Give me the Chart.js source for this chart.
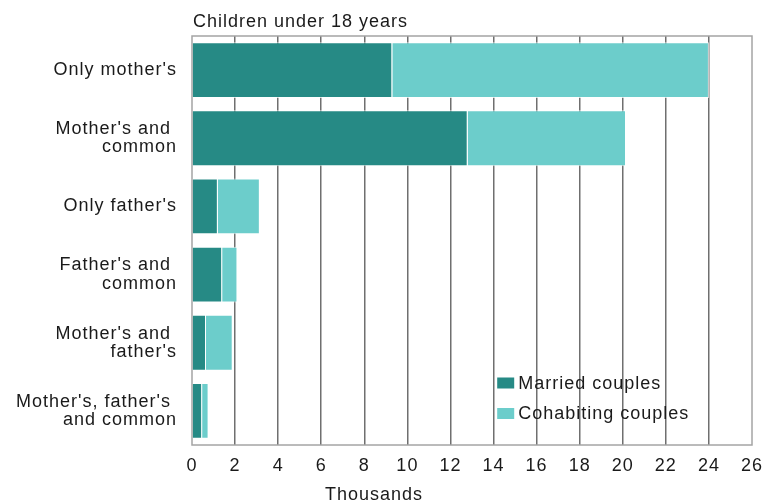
<!DOCTYPE html>
<html>
<head>
<meta charset="utf-8">
<script src="https://cdn.jsdelivr.net/npm/chart.js@4"></script>
<style>
  html, body { margin: 0; padding: 0; background: #fff; }
  #wrap { width: 764px; height: 504px; }
</style>
</head>
<body>
<div id="wrap"><canvas id="c" width="764" height="504"></canvas></div>
<script>
const categories = [
  "Only mother's",
  ["Mother's and ", "common"],
  "Only father's",
  ["Father's and ", "common"],
  ["Mother's and ", "father's"],
  ["Mother's, father's ", "and common"]
];
const marriedCouples = [9.3, 12.8, 1.2, 1.4, 0.65, 0.47];
const cohabitingCouples = [14.7, 7.35, 1.95, 0.71, 1.24, 0.3];
const xTicks = [0, 2, 4, 6, 8, 10, 12, 14, 16, 18, 20, 22, 24, 26];
const seriesNames = ["Married couples", "Cohabiting couples"];
const chartTitle = "Children under 18 years";
const axisTitle = "Thousands";

const FONT = "'Liberation Sans', Arial, sans-serif";
const TEXT = '#1a1a1a';
const colors = ['#268A85', '#6CCDCB'];

const spacingPlugin = {
  id: 'spacing',
  beforeLayout(chart) { chart.ctx.letterSpacing = '1px'; },
  beforeDraw(chart) { chart.ctx.letterSpacing = '1px'; }
};

const decorPlugin = {
  id: 'decor',
  beforeDatasetsDraw(chart) {
    const { ctx, chartArea: a } = chart;
    ctx.save();
    ctx.strokeStyle = '#a4a4a4';
    ctx.lineWidth = 1.5;
    ctx.strokeRect(a.left, a.top, a.right - a.left, a.bottom - a.top);
    ctx.restore();
  },
  afterDraw(chart) {
    const { ctx, chartArea: a, scales } = chart;
    ctx.save();
    ctx.letterSpacing = '1px';
    ctx.fillStyle = TEXT;
    ctx.font = '18px ' + FONT;
    ctx.textBaseline = 'middle';
    ctx.textAlign = 'left';
    ctx.fillText(chartTitle, a.left + 1, 22);
    // axis title
    ctx.textAlign = 'center';
    ctx.fillText(axisTitle, scales.x.getPixelForValue(8.45), 495);
    // legend
    const lx = scales.x.getPixelForValue(14.17);
    const ly0 = a.bottom - 62;
    chart.data.datasets.forEach((ds, i) => {
      const y = ly0 + i * 30.5;
      ctx.fillStyle = ds.backgroundColor;
      ctx.fillRect(lx, y - 5.5, 17, 11);
      ctx.fillStyle = TEXT;
      ctx.textAlign = 'left';
      ctx.fillText(ds.label, lx + 21, y + 1);
    });
    ctx.restore();
  }
};

new Chart(document.getElementById('c'), {
  type: 'bar',
  data: {
    labels: categories,
    datasets: [
      { label: seriesNames[0], data: marriedCouples, backgroundColor: colors[0],
        borderColor: 'rgba(255,255,255,0.75)', borderWidth: 1,
        barPercentage: 0.82, categoryPercentage: 1 },
      { label: seriesNames[1], data: cohabitingCouples, backgroundColor: colors[1],
        borderColor: 'rgba(255,255,255,0.75)', borderWidth: 1,
        barPercentage: 0.82, categoryPercentage: 1 }
    ]
  },
  options: {
    indexAxis: 'y',
    responsive: false,
    animation: false,
    events: [],
    layout: { padding: { top: 36, right: 12, left: 0, bottom: 0 } },
    plugins: { legend: { display: false }, tooltip: { enabled: false }, title: { display: false } },
    scales: {
      x: {
        stacked: true,
        min: 0, max: 26,
        afterBuildTicks(scale) { scale.ticks = xTicks.map(v => ({ value: v })); },
        afterFit(scale) { scale.height = 59; scale.paddingRight = 0; scale.paddingLeft = 0; },
        grid: {
          drawTicks: false,
          color: ctx => (ctx.tick && (ctx.tick.value === 0 || ctx.tick.value === 26)) ? 'rgba(0,0,0,0)' : '#6f6f6f',
          lineWidth: 1.5
        },
        border: { display: false },
        ticks: { font: { family: FONT, size: 18 }, color: TEXT, padding: 10, maxRotation: 0, autoSkip: false }
      },
      y: {
        stacked: true,
        afterFit(scale) { scale.width = 192; },
        grid: { display: false, drawTicks: false },
        border: { display: false },
        ticks: { font: { family: FONT, size: 18, lineHeight: 1.02 }, color: TEXT, padding: 15, crossAlign: 'near' }
      }
    }
  },
  plugins: [spacingPlugin, decorPlugin]
});
</script>
</body>
</html>
